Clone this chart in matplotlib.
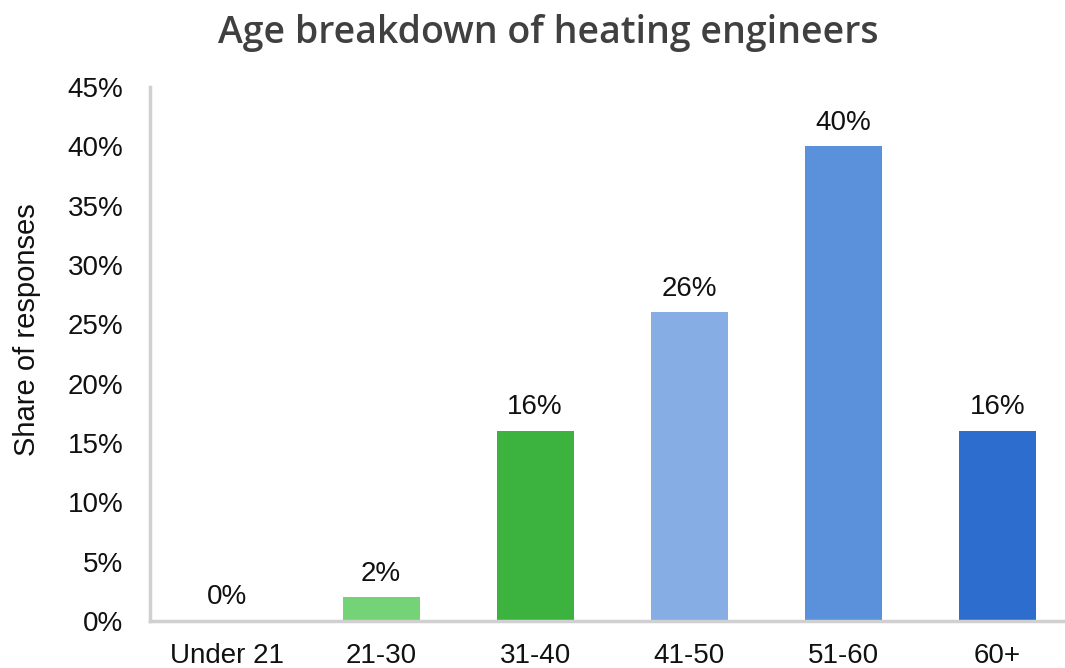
import matplotlib
matplotlib.use("Agg")
import matplotlib.pyplot as plt
from matplotlib.ticker import FuncFormatter

# Age groups and share of responses (%)
groups = ["Under 21", "21-30", "31-40", "41-50", "51-60", "60+"]
shares = [0, 2, 16, 26, 40, 16]
colors = ["#75D377", "#75D377", "#3BB33E", "#86AEE4", "#5B90DB", "#2D6DCD"]

plt.rcParams["font.family"] = ["Liberation Sans", "DejaVu Sans"]

fig = plt.figure(figsize=(10.65, 6.68), dpi=100)
ax = fig.add_axes([0.1408, 0.0704, 0.8592, 0.7994])

x = range(len(groups))
bars = ax.bar(x, shares, width=0.5, color=colors)

for xi, v in zip(x, shares):
    ax.text(xi, v + 0.9, f"{v}%", ha="center", va="bottom", fontsize=20, color="#111111")

ax.set_xlim(-0.5, 5.44)
ax.set_ylim(0, 45)
ax.set_yticks(range(0, 50, 5))
ax.yaxis.set_major_formatter(FuncFormatter(lambda v, p: f"{int(v)}%"))
ax.set_xticks(list(x))
ax.set_xticklabels(groups)
ax.tick_params(axis="both", length=0, labelsize=20, labelcolor="#111111")
ax.tick_params(axis="x", pad=16)
ax.tick_params(axis="y", pad=19)

for side in ["top", "right"]:
    ax.spines[side].set_visible(False)
for side in ["left", "bottom"]:
    ax.spines[side].set_color("#D0D0D0")
    ax.spines[side].set_linewidth(2.5)

ax.set_ylabel("Share of responses", fontsize=21, color="#111111")
ax.yaxis.set_label_coords(-0.119, 0.545)

fig.text(0.515, 0.95, "Age breakdown of heating engineers", ha="center", va="center",
         fontsize=27, fontweight="semibold", color="#404040", family=["Open Sans", "DejaVu Sans"])

fig.savefig("out.png", dpi=100)
